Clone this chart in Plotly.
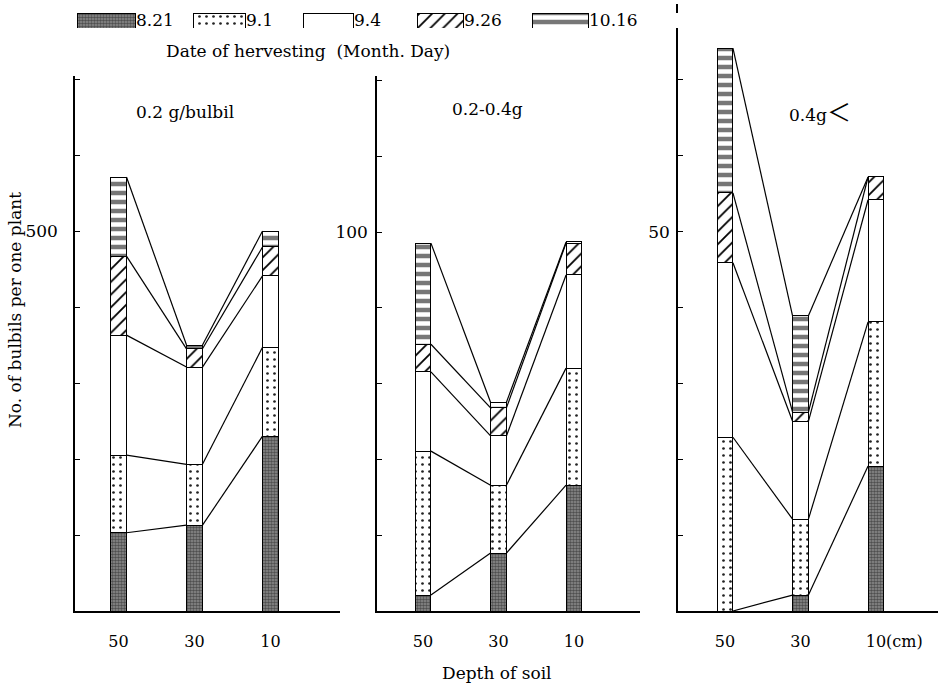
import numpy as np
import plotly.graph_objects as go

# ---------------- data ----------------
depths = ["50", "30", "10"]                 # depth of soil (cm)
dates = ["8.21", "9.1", "9.4", "9.26", "10.16"]   # harvest date (Month.Day)
panel_titles = ["0.2 g/bulbil", "0.2-0.4g",
                "0.4g<span style='font-family:Noto Sans CJK JP;font-size:24px'>＜</span>"]

# cumulative no. of bulbils per plant at each harvest date
# rows: harvest date (8.21 ... 10.16), columns: depth 50, 30, 10 cm
bulbils_small = [[103, 113, 230],
                 [205, 193, 347],
                 [363, 321, 441],
                 [467, 345, 479],
                 [571, 350, 500]]
bulbils_medium = [[4.2, 15.3, 33.2],
                  [42.2, 33.2, 64.1],
                  [63.1, 46.2, 88.7],
                  [70.4, 53.6, 97.1],
                  [97.1, 55.1, 97.4]]
bulbils_large = [[0.0, 2.1, 19.1],
                 [22.9, 12.1, 38.1],
                 [45.9, 25.0, 54.2],
                 [55.1, 26.2, 57.2],
                 [74.2, 38.9, 57.2]]
panels = [bulbils_small, bulbils_medium, bulbils_large]

y_tick_step = [100, 20, 10]
y_labelled = [500, 100, 50]
y_max = [704, 141.2, 80]

# ---------------- styles / layout ----------------
W, H = 938, 689
FONT = "DejaVu Serif"
BAR_W = 0.21
x_dom_px = [(75, 340), (377, 640), (678, 938)]
y_top_px = [76, 76, 4]
y_bot_px = 611
bar_center_px = [(118.5, 76.0), (423, 75.5), (725, 75.5)]   # first bar centre, spacing
label_standoff = [12, 4, 3]
title_pos_px = [(185, 112), (487, 109), (820, 111)]

dark_pat = dict(shape=".", fgcolor="#4f4f4f", bgcolor="#8f8f8f", size=3, solidity=0.55, fillmode="replace")
styles = [
    dict(color="#808080", pattern=dark_pat, line=dict(color="black", width=1)),
    dict(color="white", pattern=dict(shape=".", fgcolor="#222", bgcolor="white", size=7, solidity=0.12, fillmode="replace"),
         line=dict(color="black", width=1)),
    dict(color="white", line=dict(color="black", width=1)),
    dict(color="white", pattern=dict(shape="/", fgcolor="black", bgcolor="white", size=9, solidity=0.2, fillmode="replace"),
         line=dict(color="black", width=1)),
    dict(color="#777777", pattern=dict(shape="-", fgcolor="white", bgcolor="#777777", size=9, solidity=0.5, fillmode="replace"),
         line=dict(color="black", width=1)),
]

leg_left_px = [77, 193, 303, 417, 532]
leg_width_px = [58, 52, 50, 46, 56]

fig = go.Figure()
pos = np.arange(len(depths))
hw = BAR_W / 2

for p, data in enumerate(panels):
    xa = "x" if p == 0 else f"x{p + 1}"
    ya = "y" if p == 0 else f"y{p + 1}"
    cum = np.array(data, dtype=float)
    inc = np.diff(np.vstack([np.zeros(len(depths)), cum]), axis=0)
    for d in range(len(dates)):
        fig.add_bar(x=pos, y=inc[d], width=BAR_W, marker=styles[d], xaxis=xa, yaxis=ya,
                    showlegend=False, name=dates[d])
    for d in range(len(dates)):
        xs = [pos[0] + hw, pos[1] - hw, None, pos[1] + hw, pos[2] - hw]
        ys = [cum[d, 0], cum[d, 1], None, cum[d, 1], cum[d, 2]]
        fig.add_scatter(x=xs, y=ys, mode="lines", line=dict(color="black", width=1.2),
                        xaxis=xa, yaxis=ya, showlegend=False, hoverinfo="skip")

# legend swatches on a helper axis
for d in range(len(dates)):
    fig.add_bar(x=[leg_width_px[d]], base=[leg_left_px[d]], y=[0], orientation="h", width=1,
                marker=styles[d], xaxis="x4", yaxis="y4", showlegend=False, hoverinfo="skip")

layout = dict(
    width=W, height=H, margin=dict(l=0, r=0, t=0, b=0),
    paper_bgcolor="white", plot_bgcolor="white", barmode="stack",
    font=dict(family=FONT, size=16, color="black"),
    showlegend=False,
)

annotations = []
for p in range(3):
    sfx = "" if p == 0 else str(p + 1)
    x0, x1 = x_dom_px[p]
    c0, sp = bar_center_px[p]
    xr = [(x0 - c0) / sp, (x1 - c0) / sp]
    layout["xaxis" + sfx] = dict(
        domain=[x0 / W, min(x1 / W, 1.0)], range=xr, anchor="y" + sfx,
        tickvals=list(pos), ticktext=list(depths), ticks="", showgrid=False, zeroline=False,
        showline=True, linecolor="black", linewidth=2, ticklabelstandoff=15,
        tickfont=dict(family=FONT, size=16),
    )
    tv = list(np.arange(y_tick_step[p], y_max[p], y_tick_step[p]))
    tt = [str(int(v)) if abs(v - y_labelled[p]) < 1e-9 else "" for v in tv]
    layout["yaxis" + sfx] = dict(
        domain=[1 - y_bot_px / H, 1 - y_top_px[p] / H], range=[0, y_max[p]], anchor="x" + sfx,
        tickvals=tv, ticktext=tt, ticks="inside", ticklen=5, tickcolor="black", tickwidth=1,
        showgrid=False, zeroline=False, showline=True, linecolor="black", linewidth=1.5,
        ticklabelstandoff=label_standoff[p], tickfont=dict(family=FONT, size=17),
    )
    tx, ty = title_pos_px[p]
    annotations.append(dict(text=panel_titles[p], x=tx / W, y=1 - ty / H, xref="paper", yref="paper",
                            xanchor="center", yanchor="middle",
                            showarrow=False, font=dict(family=FONT, size=17)))

layout["xaxis4"] = dict(domain=[0, 1], range=[0, W], visible=False, anchor="y4", fixedrange=True)
layout["yaxis4"] = dict(domain=[1 - 28 / H, 1 - 13 / H], range=[-0.5, 0.5], visible=False, anchor="x4",
                        fixedrange=True)

for d in range(len(dates)):
    annotations.append(dict(text=dates[d], x=leg_left_px[d] + leg_width_px[d], y=1 - 20 / H,
                            xref="x4", yref="paper", xanchor="left", yanchor="middle", xshift=-1,
                            showarrow=False, font=dict(family=FONT, size=17)))

annotations += [
    dict(text="Date of hervesting\u00a0\u00a0(Month. Day)", x=308 / W, y=1 - 51 / H, xref="paper", yref="paper",
         xanchor="center", yanchor="middle", showarrow=False, font=dict(family=FONT, size=17)),
    dict(text="No. of bulbils per one plant", x=15 / W, y=1 - 310 / H, xref="paper", yref="paper",
         xanchor="center", yanchor="middle", textangle=-90, showarrow=False, font=dict(family=FONT, size=17)),
    dict(text="Depth of soil", x=497 / W, y=1 - 673 / H, xref="paper", yref="paper",
         xanchor="center", yanchor="middle", showarrow=False, font=dict(family=FONT, size=17)),
    dict(text="(cm)", x=pos[2] + 0.105, y=1 - 641 / H, xref="x3", yref="paper", xanchor="left",
         yanchor="middle", showarrow=False, font=dict(family=FONT, size=16)),
]
layout["annotations"] = annotations
fig.update_layout(**layout)

fig.write_html("out.html", config={"displayModeBar": False},
               post_script="document.body.style.margin='0';")
